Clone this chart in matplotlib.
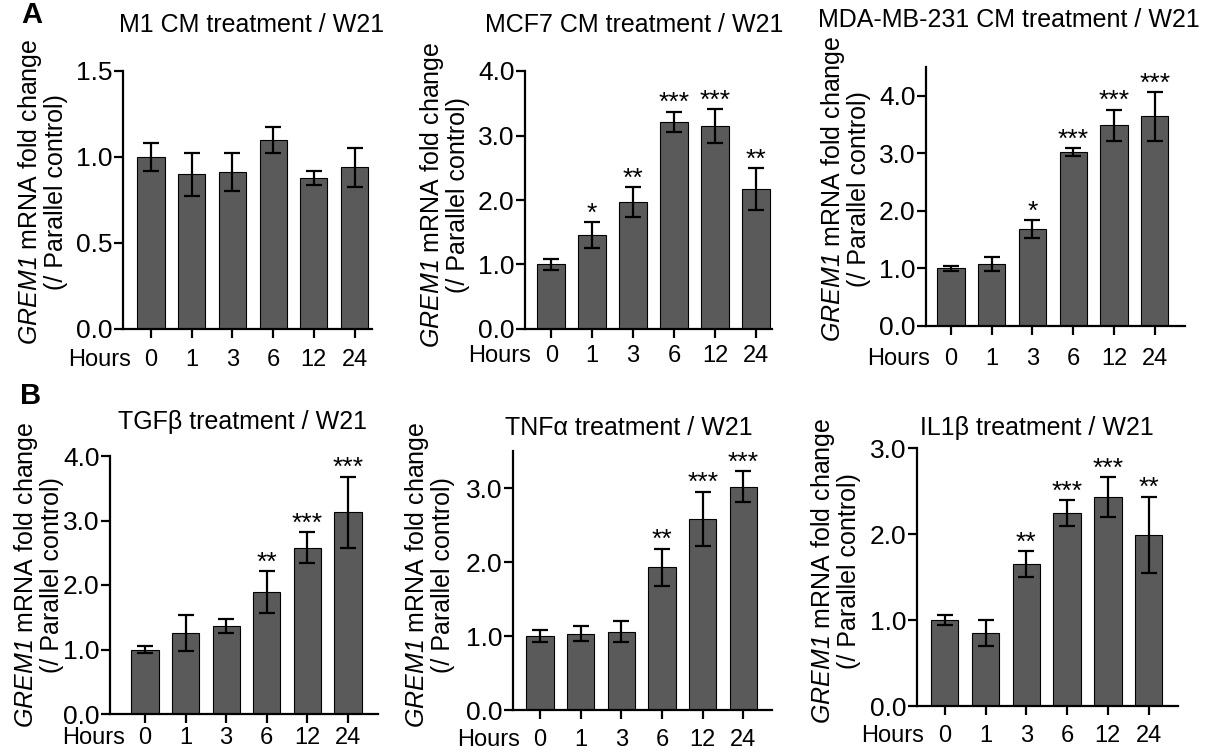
import matplotlib
matplotlib.use("Agg")
import matplotlib.pyplot as plt
import numpy as np

plt.rcParams['font.family'] = ['Liberation Sans', 'DejaVu Sans']
# math text is only used for the italic gene name (digits included)
plt.rcParams['mathtext.fontset'] = 'custom'
plt.rcParams['mathtext.rm'] = 'Liberation Sans:italic'
plt.rcParams['mathtext.it'] = 'Liberation Sans:italic'

# data
hours = ["0", "1", "3", "6", "12", "24"]

titles = ["M1 CM treatment / W21", "MCF7 CM treatment / W21", "MDA-MB-231 CM treatment / W21",
          "TGF\u03b2 treatment / W21", "TNF\u03b1 treatment / W21", "IL1\u03b2 treatment / W21"]

m1_mean = [1.00, 0.90, 0.915, 1.10, 0.88, 0.94]
m1_err = [0.08, 0.125, 0.11, 0.075, 0.04, 0.115]
m1_stars = ["", "", "", "", "", ""]

mcf7_mean = [1.00, 1.46, 1.97, 3.21, 3.15, 2.17]
mcf7_err = [0.09, 0.20, 0.23, 0.16, 0.26, 0.33]
mcf7_stars = ["", "*", "**", "***", "***", "**"]

mda_mean = [1.00, 1.08, 1.69, 3.02, 3.49, 3.64]
mda_err = [0.05, 0.12, 0.155, 0.075, 0.27, 0.42]
mda_stars = ["", "", "*", "***", "***", "***"]

tgfb_mean = [1.00, 1.25, 1.36, 1.89, 2.58, 3.13]
tgfb_err = [0.06, 0.28, 0.11, 0.32, 0.24, 0.55]
tgfb_stars = ["", "", "", "**", "***", "***"]

tnfa_mean = [1.00, 1.03, 1.06, 1.93, 2.58, 3.02]
tnfa_err = [0.08, 0.10, 0.14, 0.25, 0.37, 0.21]
tnfa_stars = ["", "", "", "**", "***", "***"]

il1b_mean = [1.00, 0.85, 1.65, 2.24, 2.43, 1.99]
il1b_err = [0.06, 0.155, 0.15, 0.15, 0.23, 0.445]
il1b_stars = ["", "", "**", "***", "***", "**"]

means = [m1_mean, mcf7_mean, mda_mean, tgfb_mean, tnfa_mean, il1b_mean]
errs = [m1_err, mcf7_err, mda_err, tgfb_err, tnfa_err, il1b_err]
stars = [m1_stars, mcf7_stars, mda_stars, tgfb_stars, tnfa_stars, il1b_stars]
ymax = [1.5, 4.0, 4.5, 4.0, 3.5, 3.0]
ytick_max = [1.5, 4.0, 4.0, 4.0, 3.0, 3.0]
ytick_step = [0.5, 1.0, 1.0, 1.0, 1.0, 1.0]

# layout in pixels: axes (left, top, right, bottom), xlim, title centre, ylabel centre
W, H = 1207, 754
boxes = [(123, 71, 372, 329), (525, 71, 772, 329), (926, 67, 1185, 326),
         (110, 456, 378, 714), (513, 451, 772, 710), (917, 448, 1178, 706)]
xlims = [(-0.69, 5.43), (-0.64, 5.39), (-0.61, 5.74),
         (-0.86, 5.74), (-0.66, 5.70), (-0.68, 5.72)]
xpads = [8, 5, 9, 3, 7, 7]
title_xy = [(252, 25), (634, 25), (1009, 20), (242, 422), (629, 428), (1037, 428)]
ylab_xy = [(42, 192), (444, 195), (845, 189), (38, 575), (429, 575), (835, 571)]

ylabel = r"$\mathrm{GREM1}$ mRNA fold change" + "\n(/ Parallel control)"

fig = plt.figure(figsize=(W / 100, H / 100), dpi=100)

for i in range(6):
    l, t, r, b = boxes[i]
    ax = fig.add_axes([l / W, 1 - b / H, (r - l) / W, (b - t) / H])
    x = np.arange(len(hours))
    ax.bar(x, means[i], width=0.67, color="#5a5a5a", edgecolor="black", linewidth=0.8, zorder=2)
    ax.errorbar(x, means[i], yerr=errs[i], fmt="none", ecolor="black",
                elinewidth=1.6, capsize=6, capthick=1.6, zorder=3)
    for xi, m, e, s in zip(x, means[i], errs[i], stars[i]):
        if s:
            ax.annotate(s, xy=(xi, m + e), xytext=(0, 1), textcoords="offset points",
                        ha="center", va="baseline", fontsize=19)
    ax.set_xlim(*xlims[i])
    ax.set_ylim(0, ymax[i])
    yt = np.arange(0, ytick_max[i] + 0.01, ytick_step[i])
    ax.set_yticks(yt)
    ax.set_yticklabels([f"{v:.1f}" for v in yt])
    ax.set_xticks(x)
    ax.set_xticklabels(hours)
    ax.spines["top"].set_visible(False)
    ax.spines["right"].set_visible(False)
    ax.spines["left"].set_linewidth(1.6)
    ax.spines["bottom"].set_linewidth(1.6)
    ax.tick_params(axis="both", width=1.6, length=6.5)
    ax.tick_params(axis="y", pad=1, labelsize=19)
    ax.tick_params(axis="x", pad=xpads[i], labelsize=17)
    ax.annotate("Hours", xy=(-0.5, 0), xycoords=("data", "axes fraction"),
                xytext=(0, -6.5 - xpads[i]), textcoords="offset points",
                ha="right", va="top", fontsize=17, annotation_clip=False)
    fig.text(title_xy[i][0] / W, 1 - title_xy[i][1] / H, titles[i],
             ha="center", va="center", fontsize=18)
    fig.text(ylab_xy[i][0] / W, 1 - ylab_xy[i][1] / H, ylabel, rotation=90,
             ha="center", va="center", fontsize=18, linespacing=1.0, multialignment="center")

fig.text(32 / W, 1 - 15 / H, "A", ha="center", va="center", fontsize=21, fontweight="bold")
fig.text(31 / W, 1 - 396 / H, "B", ha="center", va="center", fontsize=21, fontweight="bold")

fig.savefig("out.png", dpi=100)
